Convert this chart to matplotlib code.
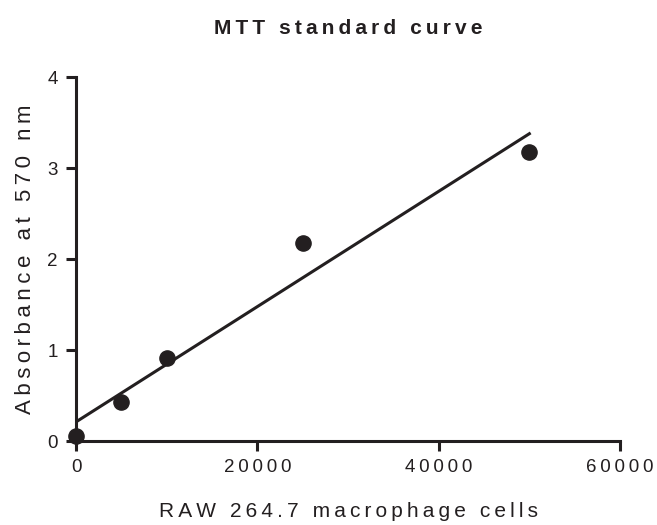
import numpy as np
import matplotlib
matplotlib.use("Agg")
import matplotlib.pyplot as plt

plt.rcParams['font.family'] = ['Liberation Sans', 'DejaVu Sans']

cells = [0, 5000, 10000, 25000, 50000]
absorbance = [0.05, 0.43, 0.91, 2.18, 3.18]
xticks = [0, 20000, 40000, 60000]


def spaced(s):
    # wide letter tracking like the original
    return "\u2009".join(s)


fig = plt.figure(figsize=(6.57, 5.25), dpi=100)
ax = fig.add_axes([0.1157, 0.16, 0.828, 0.6933])

slope, icpt = np.polyfit(cells, absorbance, 1)
xfit = np.array([cells[0], cells[-1]])
ax.plot(xfit, slope * xfit + icpt, color='#231f20', lw=2.2, zorder=2)
ax.scatter(cells, absorbance, s=120, color='#231f20', zorder=3, clip_on=False)

ax.set_xlim(0, 60000)
ax.set_ylim(0, 4)
ax.set_xticks(xticks)
ax.set_yticks([0, 1, 2, 3, 4])
ax.set_xticklabels([spaced(str(v)) for v in xticks])

for s in ['top', 'right']:
    ax.spines[s].set_visible(False)
for s in ['left', 'bottom']:
    ax.spines[s].set_linewidth(2.2)
    ax.spines[s].set_color('#231f20')
ax.tick_params(direction='out', length=7, width=2.2, color='#231f20',
               labelsize=13.5, labelcolor='#231f20', pad=6)

ax.set_xlabel(spaced("RAW 264.7 macrophage cells"), fontsize=15, color='#231f20', labelpad=19)
ax.set_ylabel(spaced("Absorbance at 570 nm"), fontsize=16, color='#231f20', labelpad=8)
ax.set_title(spaced("MTT standard curve"), fontsize=15, fontweight='bold',
             color='#231f20', pad=31)

fig.savefig("out.png", dpi=100)
